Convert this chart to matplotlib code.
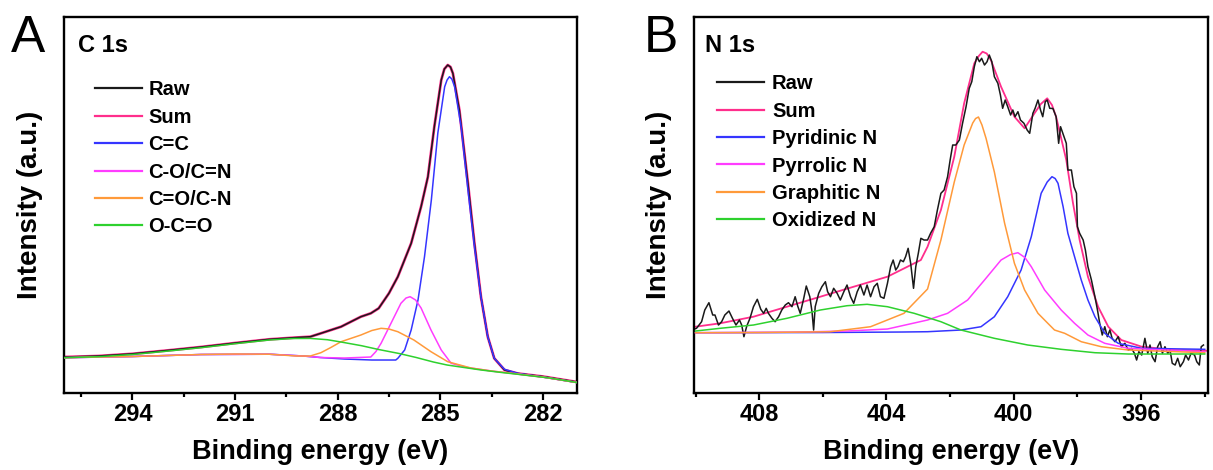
import matplotlib
matplotlib.use("Agg")
import matplotlib.pyplot as plt
from matplotlib.ticker import MultipleLocator

plt.rcParams["font.family"] = ["Liberation Sans", "DejaVu Sans"]

# ---------------- C 1s (panel A), binding energy in eV, intensity in a.u. ----------------
C_RAW_E = [296.0, 295.0, 294.0, 293.0, 292.0, 291.0, 290.0, 289.3, 288.8, 288.49, 287.9,
           287.32, 287.03, 286.8, 286.5, 286.24, 285.85, 285.56, 285.36, 285.17, 284.97,
           284.88, 284.78, 284.70, 284.63, 284.44, 284.19, 284.0, 283.81, 283.61, 283.42,
           283.12, 282.73, 282.0, 281.0]
C_RAW_I = [36.0, 37.0, 39.2, 42.5, 46.0, 50.0, 53.7, 55.3, 56.3, 59.7, 66.3,
           76.3, 79.7, 84.7, 99.7, 116.3, 149.7, 186.3, 216.3, 267.0, 313.0,
           324.0, 328.0, 326.0, 319.7, 283.0, 209.7, 149.7, 96.3, 56.3, 34.7,
           23.0, 19.5, 16.5, 11.0]
C_SUM_E = C_RAW_E
C_SUM_I = C_RAW_I

C_CC_E = [296.0, 294.0, 292.0, 290.0, 289.0, 288.5, 287.8, 287.0, 286.3, 286.24, 286.04,
          285.85, 285.65, 285.46, 285.26, 285.07, 284.87, 284.80, 284.73, 284.66, 284.58,
          284.39, 284.19, 284.0, 283.81, 283.61, 283.42, 283.12, 282.73, 282.0, 281.0]
C_CC_I = [35.3, 36.5, 38.5, 38.8, 37.0, 35.5, 34.0, 33.0, 33.0, 34.7, 43.0,
          63.0, 93.0, 136.3, 193.0, 260.0, 306.3, 313.0, 316.3, 314.0, 306.3,
          266.3, 203.0, 146.3, 96.3, 56.3, 34.7, 23.7, 19.7, 16.0, 10.5]

C_CO_E = [296.0, 294.0, 292.0, 290.0, 289.0, 288.5, 287.8, 287.03, 286.88, 286.73, 286.44,
          286.15, 286.0, 285.88, 285.72, 285.56, 285.27, 284.97, 284.68, 284.2, 283.5,
          282.8, 282.0, 281.0]
C_CO_I = [35.3, 36.5, 38.5, 38.8, 37.0, 35.5, 35.0, 36.0, 41.5, 49.7, 69.7,
          89.7, 95.0, 96.3, 93.0, 85.0, 63.0, 43.0, 29.7, 25.5, 22.0,
          19.3, 16.0, 10.5]

C_CEO_E = [296.0, 295.0, 294.0, 293.0, 292.0, 291.0, 290.0, 289.2, 288.8, 288.49, 288.2,
           287.9, 287.32, 287.0, 286.73, 286.5, 286.24, 285.77, 285.27, 284.78, 284.1,
           283.5, 282.8, 282.0, 281.0]
C_CEO_I = [35.3, 36.0, 36.5, 37.5, 38.5, 39.0, 38.8, 37.0, 37.0, 40.3, 45.5,
           51.3, 58.0, 62.5, 64.7, 64.0, 61.3, 53.0, 41.3, 31.3, 25.0,
           22.0, 19.3, 16.0, 10.5]

C_OCO_E = [296.0, 295.0, 294.0, 293.0, 292.0, 291.0, 290.0, 289.3, 288.8, 288.3, 287.9,
           287.3, 286.8, 286.2, 285.7, 285.2, 284.8, 284.2, 283.8, 283.2, 282.8, 282.3,
           281.8, 281.0]
C_OCO_I = [35.3, 36.3, 38.5, 41.8, 45.3, 49.3, 53.0, 54.5, 54.6, 53.3, 51.0,
           47.3, 43.5, 39.5, 35.5, 31.0, 28.0, 25.0, 23.0, 20.5, 19.0, 17.0,
           15.0, 10.5]

C_LABELS = ["Raw", "Sum", "C=C", "C-O/C=N", "C=O/C-N", "O-C=O"]

# ---------------- N 1s (panel B) ----------------
N_RAW_E = [410.13, 409.97, 409.81, 409.71, 409.58, 409.46, 409.39, 409.28, 409.18, 409.08,
           408.95, 408.84, 408.73, 408.62, 408.55, 408.48, 408.39, 408.29, 408.18, 408.06,
           407.95, 407.86, 407.78, 407.71, 407.60, 407.50, 407.39, 407.29, 407.18, 407.08,
           406.97, 406.87, 406.79, 406.71, 406.60, 406.52, 406.41, 406.34, 406.29, 406.24,
           406.13, 406.03, 405.92, 405.85, 405.76, 405.66, 405.55, 405.45, 405.34, 405.24,
           405.13, 405.03, 404.92, 404.82, 404.71, 404.61, 404.50, 404.39, 404.29, 404.19,
           404.08, 403.97, 403.87, 403.79, 403.71, 403.64, 403.56, 403.47, 403.40, 403.32,
           403.24, 403.15, 403.08, 403.00, 402.92, 402.82, 402.71, 402.61, 402.50, 402.40,
           402.29, 402.19, 402.08, 402.00, 401.92, 401.82, 401.71, 401.61, 401.50, 401.40,
           401.32, 401.24, 401.16, 401.08, 401.01, 400.92, 400.84, 400.77, 400.69, 400.61,
           400.50, 400.42, 400.35, 400.27, 400.19, 400.10, 400.03, 399.96, 399.87, 399.79,
           399.68, 399.58, 399.50, 399.40, 399.33, 399.24, 399.16, 399.09, 399.01, 398.95,
           398.87, 398.77, 398.67, 398.59, 398.53, 398.42, 398.35, 398.30, 398.19, 398.11,
           398.03, 398.00, 397.93, 397.82, 397.75, 397.67, 397.56, 397.45, 397.37, 397.30,
           397.22, 397.14, 397.06, 396.98, 396.91, 396.82, 396.72, 396.62, 396.51, 396.40,
           396.30, 396.21, 396.14, 396.07, 395.98, 395.88, 395.79, 395.72, 395.65, 395.56,
           395.48, 395.40, 395.33, 395.25, 395.16, 395.09, 395.02, 394.93, 394.85, 394.77,
           394.67, 394.60, 394.51, 394.43, 394.32, 394.25, 394.17, 394.11, 394.04]
N_RAW_I = [63.0, 64.7, 71.3, 83.0, 90.3, 78.0, 78.0, 68.0, 71.3, 78.0,
           82.0, 74.7, 68.0, 73.0, 68.0, 56.3, 67.0, 74.7, 86.3, 93.7,
           83.7, 79.7, 84.7, 79.7, 74.7, 71.3, 76.3, 83.0, 88.0, 90.3,
           86.3, 96.3, 87.0, 79.7, 94.7, 107.0, 96.3, 81.3, 63.0, 86.3,
           99.7, 106.3, 111.3, 101.3, 96.3, 104.7, 99.7, 93.0, 101.3, 108.0,
           96.3, 89.7, 101.3, 108.0, 98.0, 108.0, 96.3, 106.3, 109.7, 96.3,
           94.7, 109.7, 126.3, 133.0, 123.0, 126.3, 133.0, 131.3, 136.3, 144.7,
           129.7, 104.7, 126.3, 139.7, 154.7, 153.0, 153.0, 160.0, 166.3, 183.0,
           199.7, 203.0, 216.3, 233.0, 248.0, 248.0, 253.0, 269.7, 286.3, 304.7,
           311.3, 326.3, 336.3, 331.3, 334.7, 328.0, 331.3, 338.0, 331.3, 316.3,
           309.7, 298.0, 284.7, 293.0, 286.3, 278.0, 283.0, 276.3, 281.3, 273.0,
           269.7, 263.0, 259.7, 279.7, 284.7, 293.0, 283.0, 276.3, 291.3, 293.0,
           284.7, 284.5, 276.3, 249.7, 266.3, 256.3, 249.7, 223.0, 223.0, 206.3,
           199.7, 166.3, 159.7, 153.0, 143.0, 126.3, 113.0, 96.3, 83.0, 69.7,
           58.0, 66.3, 56.3, 63.0, 54.7, 51.3, 56.3, 46.3, 49.7, 43.0,
           44.7, 39.7, 33.0, 41.3, 38.0, 54.7, 39.7, 48.0, 36.3, 31.3,
           46.3, 51.3, 39.7, 46.3, 39.7, 43.0, 29.7, 28.0, 34.7, 26.3,
           31.3, 38.0, 33.0, 39.7, 38.0, 31.3, 28.0, 46.3, 48.0]

N_SUM_E = [410.0, 409.23, 408.18, 407.13, 406.08, 405.03, 403.97, 402.92, 402.71, 402.29,
           401.87, 401.56, 401.24, 401.10, 400.98, 400.85, 400.72, 400.40, 399.98, 399.66,
           399.35, 399.15, 398.95, 398.80, 398.67, 398.35, 398.14, 397.93, 397.67, 397.35,
           397.03, 396.62, 395.98, 394.93, 393.95]
N_SUM_I = [66.3, 69.7, 76.3, 86.3, 96.3, 106.3, 116.3, 133.0, 146.3, 183.0,
           236.3, 289.7, 329.7, 337.0, 341.3, 339.5, 333.0, 306.3, 276.3, 264.7,
           279.7, 289.0, 294.7, 288.0, 276.3, 233.0, 190.0, 153.0, 116.3, 86.3,
           66.3, 53.0, 46.3, 43.0, 42.3]

N_PYRIDINIC_E = [410.0, 406.0, 403.5, 402.71, 401.66, 401.03, 400.61, 400.19, 399.77, 399.45,
                 399.14, 398.95, 398.80, 398.70, 398.61, 398.45, 398.30, 398.09, 397.88, 397.67,
                 397.45, 397.14, 396.72, 395.98, 394.0]
N_PYRIDINIC_I = [60.3, 60.5, 61.0, 61.3, 63.0, 66.3, 76.3, 96.3, 123.0, 156.3,
                 199.7, 211.0, 216.3, 214.5, 209.7, 186.3, 159.7, 136.3, 113.0, 93.0,
                 76.3, 59.7, 49.7, 44.7, 43.7]

N_PYRROLIC_E = [410.0, 407.0, 405.24, 403.97, 402.71, 402.08, 401.45, 400.92, 400.40, 400.10,
                399.87, 399.65, 399.45, 399.03, 398.51, 398.09, 397.67, 397.14, 396.40, 394.0]
N_PYRROLIC_I = [60.3, 60.8, 62.0, 64.0, 73.0, 79.7, 93.0, 113.0, 133.0, 138.5,
                140.3, 135.5, 126.3, 103.0, 83.0, 69.7, 58.0, 49.7, 44.7, 41.3]

N_GRAPHITIC_E = [410.0, 408.0, 406.5, 405.76, 404.5, 403.45, 402.71, 402.29, 401.87, 401.56,
                 401.29, 401.20, 401.11, 401.00, 400.87, 400.61, 400.29, 399.98, 399.66, 399.24,
                 398.93, 398.72, 398.40, 397.88, 397.25, 396.40, 394.0]
N_GRAPHITIC_I = [60.3, 60.5, 61.0, 61.3, 66.3, 79.7, 104.0, 153.0, 211.0, 248.0,
                 270.0, 274.5, 276.0, 268.0, 254.5, 221.0, 170.0, 129.7, 103.0, 79.7,
                 69.7, 63.0, 59.7, 51.3, 46.3, 43.0, 40.3]

N_OXIDIZED_E = [410.0, 409.23, 408.18, 407.13, 406.08, 405.24, 404.61, 403.97, 403.13, 402.29,
                401.66, 400.61, 399.56, 398.51, 397.45, 396.40, 394.0]
N_OXIDIZED_I = [62.0, 64.7, 68.0, 74.7, 83.0, 87.3, 88.7, 86.3, 79.7, 71.3,
                63.0, 54.7, 48.0, 43.7, 40.3, 39.0, 39.0]

N_LABELS = ["Raw", "Sum", "Pyridinic N", "Pyrrolic N", "Graphitic N", "Oxidized N"]

COLORS = ["#1a1a1a", "#ff2e8c", "#3535ff", "#ff3cff", "#ff9a3a", "#2ed12e"]


def style_axis(ax, xlim, major, minor):
    ax.set_xlim(*xlim)
    ax.set_ylim(0, 376)
    ax.xaxis.set_major_locator(MultipleLocator(major))
    ax.xaxis.set_minor_locator(MultipleLocator(minor))
    ax.set_yticks([])
    ax.tick_params(axis="x", which="both", direction="out", top=False, width=1.6,
                   labelsize=17, pad=2.5)
    ax.tick_params(axis="x", which="major", length=5)
    ax.tick_params(axis="x", which="minor", length=3)
    for lab in ax.get_xticklabels():
        lab.set_fontweight("bold")
    for sp in ax.spines.values():
        sp.set_linewidth(1.7)
    ax.set_xlabel("Binding energy (eV)", fontsize=19.5, fontweight="bold")
    ax.xaxis.set_label_coords(0.5, -0.122)
    ax.set_ylabel("Intensity (a.u.)", fontsize=20, fontweight="bold")
    ax.yaxis.set_label_coords(-0.042, 0.5)


def draw_panel(ax, curves, lw_sum):
    lines = []
    for i, (e, y) in enumerate(curves):
        lw = lw_sum if i == 1 else 1.1
        z = 2 if i == 0 else (1 if i == 1 else 3 + i)
        ln, = ax.plot(e, y, color=COLORS[i], lw=lw, zorder=z)
        lines.append(ln)
    return lines


fig = plt.figure(figsize=(12.13, 4.70), dpi=100)
ax_a = fig.add_axes([0.0528, 0.1638, 0.4229, 0.80])
ax_b = fig.add_axes([0.5721, 0.1638, 0.4237, 0.80])

c_curves = [(C_RAW_E, C_RAW_I), (C_SUM_E, C_SUM_I), (C_CC_E, C_CC_I),
            (C_CO_E, C_CO_I), (C_CEO_E, C_CEO_I), (C_OCO_E, C_OCO_I)]
n_curves = [(N_RAW_E, N_RAW_I), (N_SUM_E, N_SUM_I), (N_PYRIDINIC_E, N_PYRIDINIC_I),
            (N_PYRROLIC_E, N_PYRROLIC_I), (N_GRAPHITIC_E, N_GRAPHITIC_I),
            (N_OXIDIZED_E, N_OXIDIZED_I)]

lines_a = draw_panel(ax_a, c_curves, lw_sum=2.0)
lines_b = draw_panel(ax_b, n_curves, lw_sum=1.3)

style_axis(ax_a, (296.0, 281.0), 3, 1.5)
style_axis(ax_b, (410.05, 393.9), 4, 2)

for ax, lines, labels, anchor, pad in [(ax_a, lines_a, C_LABELS, (0.060, 0.832), 0.30),
                                       (ax_b, lines_b, N_LABELS, (0.044, 0.848), 0.40)]:
    leg = ax.legend(lines, labels, loc="upper left", bbox_to_anchor=anchor, frameon=False,
                    borderpad=0, borderaxespad=0, handlelength=2.35, handletextpad=pad,
                    labelspacing=0.42, prop={"size": 14.5, "weight": "bold"})
    for h in leg.legend_handles:
        h.set_linewidth(1.6)

ax_a.text(0.027, 0.906, "C 1s", transform=ax_a.transAxes, fontsize=17, fontweight="bold",
          ha="left", va="baseline")
ax_b.text(0.0214, 0.906, "N 1s", transform=ax_b.transAxes, fontsize=17, fontweight="bold",
          ha="left", va="baseline")

fig.text(11 / 1213, 1 - 51.5 / 470, "A", fontsize=37, ha="left", va="baseline")
fig.text(644 / 1213, 1 - 51.5 / 470, "B", fontsize=37, ha="left", va="baseline")

fig.savefig("out.png", dpi=100)
